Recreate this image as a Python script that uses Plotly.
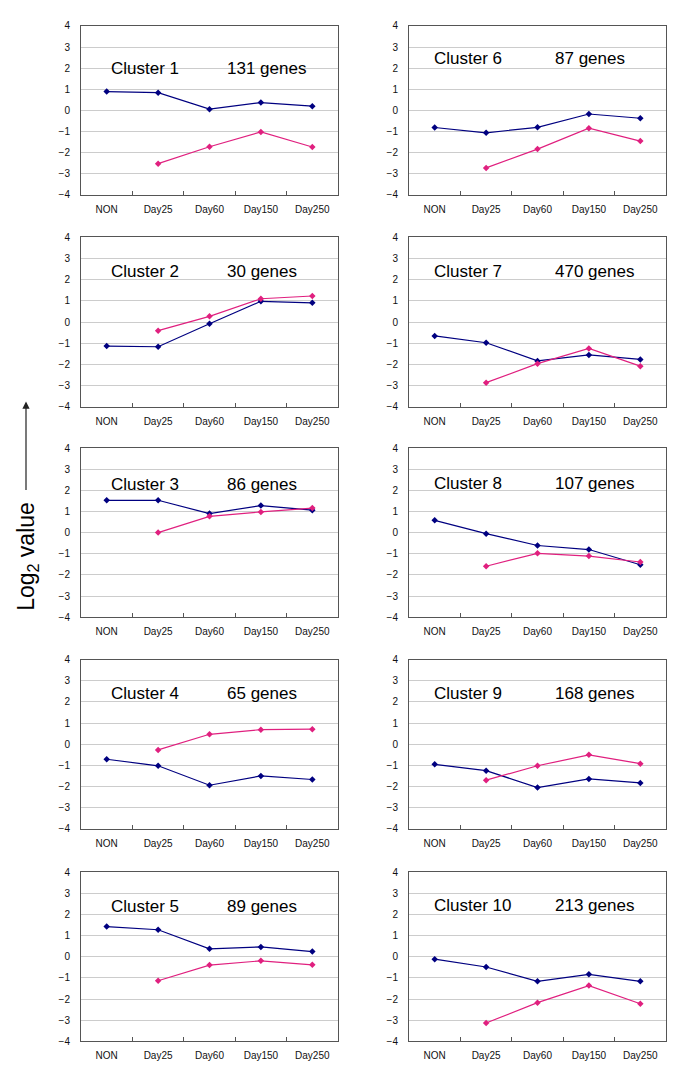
import plotly.graph_objects as go

# x categories shared by every panel
categories = ["NON", "Day25", "Day60", "Day150", "Day250"]

cluster_names = ["Cluster 1", "Cluster 2", "Cluster 3", "Cluster 4", "Cluster 5",
                 "Cluster 6", "Cluster 7", "Cluster 8", "Cluster 9", "Cluster 10"]
gene_counts = ["131 genes", "30 genes", "86 genes", "65 genes", "89 genes",
               "87 genes", "470 genes", "107 genes", "168 genes", "213 genes"]

# navy series (all five time points)
navy_values = [
    [0.89, 0.84, 0.06, 0.37, 0.20],
    [-1.14, -1.17, -0.08, 0.98, 0.91],
    [1.53, 1.53, 0.90, 1.28, 1.06],
    [-0.71, -1.02, -1.94, -1.50, -1.67],
    [1.43, 1.28, 0.38, 0.47, 0.25],
    [-0.81, -1.06, -0.80, -0.17, -0.37],
    [-0.66, -0.98, -1.84, -1.56, -1.77],
    [0.58, -0.05, -0.61, -0.80, -1.52],
    [-0.95, -1.25, -2.05, -1.64, -1.83],
    [-0.11, -0.48, -1.16, -0.83, -1.16],
]

# magenta series (no NON value)
magenta_values = [
    [None, -2.52, -1.72, -1.02, -1.73],
    [None, -0.41, 0.27, 1.10, 1.23],
    [None, 0.00, 0.77, 0.98, 1.16],
    [None, -0.27, 0.47, 0.69, 0.71],
    [None, -1.13, -0.39, -0.19, -0.38],
    [None, -2.72, -1.83, -0.84, -1.45],
    [None, -2.87, -1.97, -1.25, -2.09],
    [None, -1.59, -0.98, -1.11, -1.39],
    [None, -1.70, -1.02, -0.50, -0.92],
    [None, -3.13, -2.17, -1.36, -2.22],
]

# the page body has an 8px margin, so the figure is shrunk to fit the window
OFF = 8
W, H = 685 - 2 * OFF, 1087 - 2 * OFF
FONT = "Liberation Sans, Arial, sans-serif"
NAVY = "#000080"
PINK = "#e0207f"

# layout measured in window pixels
col_left = [(81, 338), (409, 666)]
row_tops = [20, 234, 447, 661, 876]
plot_h = 171
label_y = [2.0, 2.4, 2.3, 2.4, 2.4, 2.45, 2.37, 2.34, 2.4, 2.45]


def px_x(v):
    return (v - OFF) / W


def px_y(v):
    return 1 - (v - OFF) / H


fig = go.Figure()
annotations = []

for i in range(10):
    n = i + 1
    col = i // 5
    row = i % 5
    xs = "" if n == 1 else str(n)
    x0, x1 = col_left[col]
    top = row_tops[row]

    fig.add_trace(go.Scatter(
        x=categories, y=navy_values[i], xaxis="x" + xs, yaxis="y" + xs,
        mode="lines+markers", line=dict(color=NAVY, width=1.2),
        marker=dict(symbol="diamond", size=5, color=NAVY),
        showlegend=False))
    fig.add_trace(go.Scatter(
        x=categories, y=magenta_values[i], xaxis="x" + xs, yaxis="y" + xs,
        mode="lines+markers", line=dict(color=PINK, width=1.2),
        marker=dict(symbol="diamond", size=5, color=PINK),
        showlegend=False))

    fig.layout["xaxis" + xs] = dict(
        domain=[px_x(x0), px_x(x1)], anchor="y" + xs,
        type="category", categoryorder="array", categoryarray=categories,
        range=[-0.5, 4.5], tickson="boundaries", ticks="inside", ticklen=4,
        tickcolor="#555", showgrid=False, zeroline=False,
        showline=True, mirror=True, linecolor="#555", linewidth=1,
        tickfont=dict(family=FONT, size=10, color="#111"), ticklabelstandoff=5,
        fixedrange=True)
    fig.layout["yaxis" + xs] = dict(
        domain=[px_y(top + plot_h), px_y(top)], anchor="x" + xs,
        range=[-4, 4], dtick=1, tick0=0, showgrid=True, gridcolor="#cccccc",
        gridwidth=1, zeroline=False, ticks="",
        showline=True, mirror=True, linecolor="#555", linewidth=1,
        tickfont=dict(family=FONT, size=10, color="#111"), ticklabelstandoff=8,
        fixedrange=True)

    left_off = 28 if col == 0 else 23
    annotations.append(dict(
        text=cluster_names[i], xref="x" + xs + " domain", yref="y" + xs,
        x=left_off / 257, y=label_y[i], xanchor="left", yanchor="middle",
        showarrow=False, font=dict(family=FONT, size=17, color="black")))
    annotations.append(dict(
        text=gene_counts[i], xref="x" + xs + " domain", yref="y" + xs,
        x=144 / 257, y=label_y[i], xanchor="left", yanchor="middle",
        showarrow=False, font=dict(family=FONT, size=17, color="black")))

# y-axis title and arrow on the far left
annotations.append(dict(
    text="Log<sub>2</sub> value", xref="paper", yref="paper",
    x=px_x(28), y=px_y(557), textangle=-90, showarrow=False,
    xanchor="center", yanchor="middle",
    font=dict(family=FONT, size=23, color="black")))
annotations.append(dict(
    text="", xref="paper", yref="paper", x=px_x(26), y=px_y(400),
    ax=0, ay=90, showarrow=True, arrowhead=2, arrowsize=1.2,
    arrowwidth=1.2, arrowcolor="#222"))

fig.update_layout(
    width=W, height=H,
    margin=dict(l=0, r=0, t=0, b=0),
    paper_bgcolor="white", plot_bgcolor="white",
    annotations=annotations,
)

fig.write_html("out.html")
